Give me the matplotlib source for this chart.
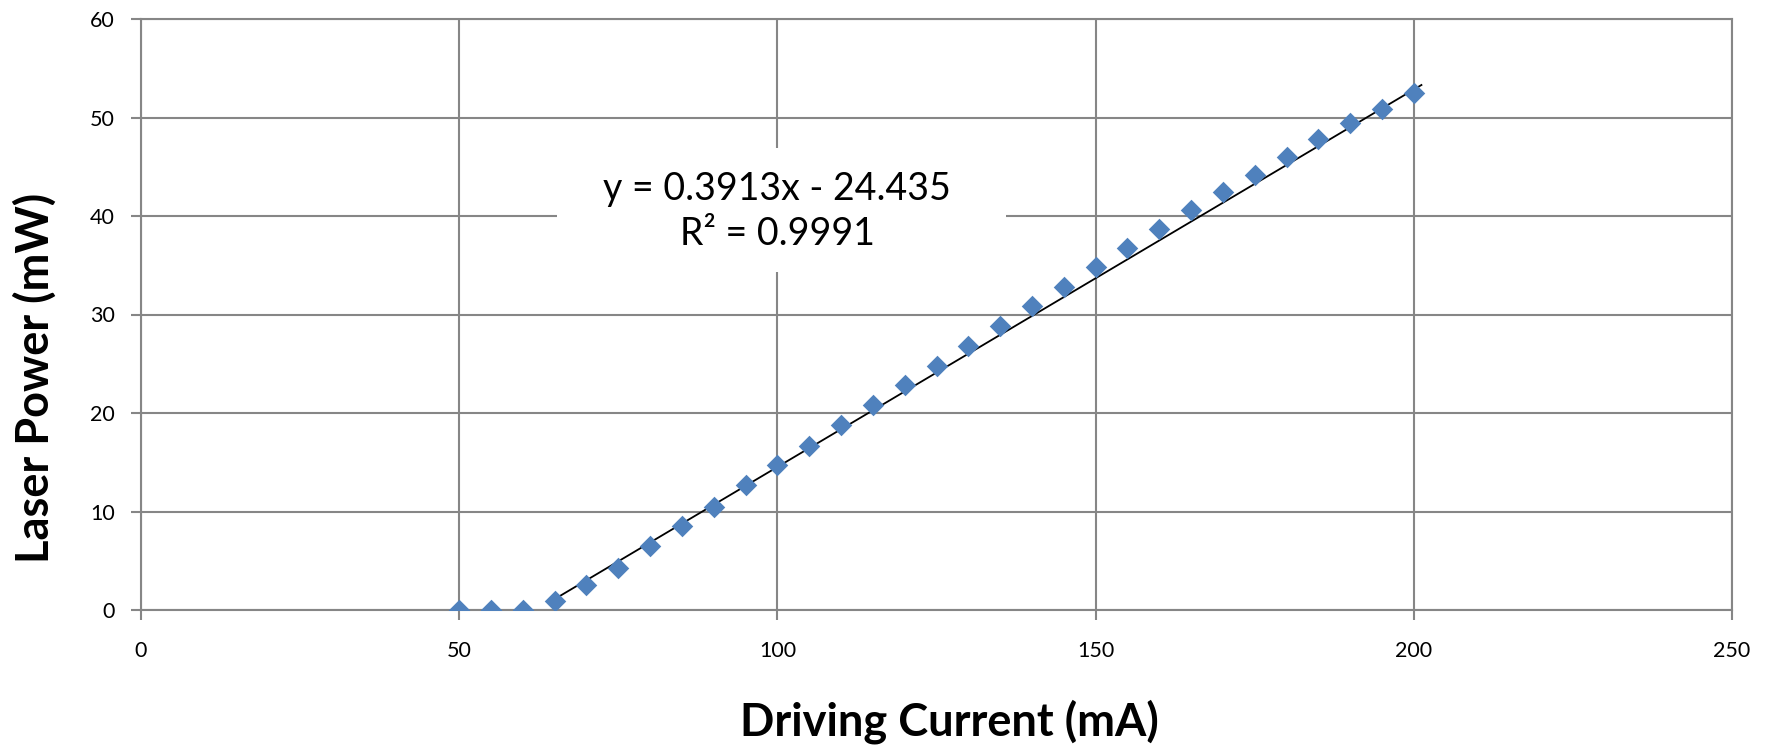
import matplotlib
matplotlib.use("Agg")
import matplotlib.pyplot as plt
import numpy as np

plt.rcParams['font.family'] = ['Lato', 'DejaVu Sans']

# Data
current_mA = [50, 55, 60, 65, 70, 75, 80, 85, 90, 95, 100, 105, 110, 115, 120,
              125, 130, 135, 140, 145, 150, 155, 160, 165, 170, 175, 180, 185,
              190, 195, 200]
power_mW = [0.0, 0.0, 0.05, 0.9, 2.5, 4.3, 6.5, 8.5, 10.5, 12.7, 14.7, 16.7,
            18.8, 20.8, 22.8, 24.8, 26.8, 28.8, 30.9, 32.8, 34.8, 36.8, 38.7,
            40.6, 42.4, 44.2, 46.0, 47.8, 49.4, 50.9, 52.5]
# trendline as drawn in the chart (end points) and its label values
trend_x = [65.5, 201.2]
trend_y = [1.3, 53.3]
fit_slope = 0.3913
fit_intercept = -24.435
fit_r2 = 0.9991
x_ticks = [0, 50, 100, 150, 200, 250]
y_ticks = [0, 10, 20, 30, 40, 50, 60]

W, H = 1771, 748
fig = plt.figure(figsize=(W / 100, H / 100), dpi=100)
ax = fig.add_axes([141 / W, 1 - 610 / H, (1732 - 141) / W, (610 - 19) / H])

grid_c = '#868686'
ax.set_xlim(0, 250)
ax.set_ylim(0, 60)
ax.set_xticks(x_ticks)
ax.set_yticks(y_ticks)
ax.grid(True, color=grid_c, linewidth=1.5, zorder=0)
ax.set_axisbelow(True)
for s in ax.spines.values():
    s.set_color(grid_c)
    s.set_linewidth(1.5)
ax.tick_params(axis='both', colors=grid_c, length=7, width=1.5, labelsize=15.5,
               labelcolor='black', direction='out')
ax.tick_params(axis='y', pad=12)
ax.tick_params(axis='x', pad=15)

# Trendline
ax.plot(trend_x, trend_y, color='black', linewidth=1.3, zorder=3)

# Markers
diamond = [(0, 1), (1, 0), (0, -1), (-1, 0), (0, 1)]
ax.plot(current_mA, power_mW, linestyle='none', marker=diamond, markersize=15.5,
        color='#4F81BD', markeredgewidth=0, zorder=4)

# White label box covering gridlines
ax.add_patch(plt.Rectangle((65.4, (610 - 272) / 9.85), 70.5, (272 - 148) / 9.85,
                           facecolor='white', edgecolor='none', zorder=2))
eq = f"y = {fit_slope}x - {abs(fit_intercept)}\nR² = {fit_r2}"
ax.text(100, 40.45, eq, ha='center', va='center', fontsize=27, linespacing=1.3,
        zorder=5)

ax.set_xlabel('Driving Current (mA)', fontsize=32.5, fontweight='bold',
              va='baseline')
ax.xaxis.set_label_coords((949 - 141) / 1591, (610 - 735) / 591)
ax.set_ylabel('Laser Power (mW)', fontsize=32.5, fontweight='bold',
              ha='center', va='center')
ax.yaxis.set_label_coords((35 - 141) / 1591, (610 - 378) / 591)

fig.savefig('out.png', dpi=100)
